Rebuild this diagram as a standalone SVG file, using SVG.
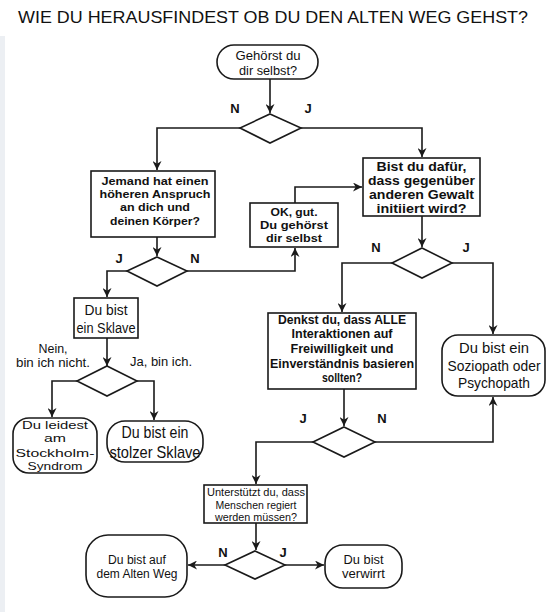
<svg xmlns="http://www.w3.org/2000/svg" width="548" height="612" viewBox="0 0 548 612">
<style>
.nd{fill:#fff;stroke:#1a1a1a;stroke-width:1.6}
.ln{fill:none;stroke:#1a1a1a;stroke-width:1.6;marker-end:url(#ah)}
text{font-family:"Liberation Sans",Arial,sans-serif;fill:#111;text-anchor:middle}
.b{font-weight:bold}
.lbl{font-weight:bold;font-size:13px}
</style>
<defs>
<marker id="ah" viewBox="0 0 10 10" refX="10" refY="5" markerWidth="9" markerHeight="9" markerUnits="userSpaceOnUse" orient="auto">
<path d="M0,0 L10,5 L0,10 L3,5 z" fill="#1a1a1a"/>
</marker>
</defs>
<rect x="0" y="0" width="548" height="612" fill="#fff"/>
<rect x="0" y="36" width="5" height="576" fill="#eceff3"/>
<text x="273" y="23" font-size="17" textLength="510" lengthAdjust="spacingAndGlyphs">WIE DU HERAUSFINDEST OB DU DEN ALTEN WEG GEHST?</text>

<g id="connectors">
<path class="ln" d="M270,79 V113"/>
<path class="ln" d="M240,128 H157 V170"/>
<path class="ln" d="M301,128 H422 V157"/>
<path class="ln" d="M157,237 V256"/>
<path class="ln" d="M127,271 H107 V297"/>
<path class="ln" d="M187,271 H295 V248"/>
<path class="ln" d="M295,203 V187 H362"/>
<path class="ln" d="M422,216 V247"/>
<path class="ln" d="M392,263 H342 V312"/>
<path class="ln" d="M452,263 H493 V334"/>
<path class="ln" d="M344,389 V426"/>
<path class="ln" d="M375,442 H493 V397"/>
<path class="ln" d="M313,442 H256 V484"/>
<path class="ln" d="M256,523 V550"/>
<path class="ln" d="M225,565 H188"/>
<path class="ln" d="M285,565 H324"/>
<path class="ln" d="M107,338 V366"/>
<path class="ln" d="M77,381 H52 V417"/>
<path class="ln" d="M137,381 H154 V420"/>
</g>

<g id="start">
<rect class="nd" x="217" y="45" width="101" height="34" rx="17"/>
<text x="268" y="60" font-size="13" textLength="65" lengthAdjust="spacingAndGlyphs">Gehörst du</text>
<text x="268" y="75" font-size="13" textLength="58" lengthAdjust="spacingAndGlyphs">dir selbst?</text>
</g>

<g id="d1">
<polygon class="nd" points="270,114 301,128 270,143 240,128"/>
<text class="lbl" x="235" y="113">N</text>
<text class="lbl" x="308" y="113">J</text>
</g>

<g id="jemand">
<rect class="nd" x="91" y="171" width="124" height="66"/>
<text class="b" x="155" y="185" font-size="11.5" textLength="107" lengthAdjust="spacingAndGlyphs">Jemand hat einen</text>
<text class="b" x="155" y="198" font-size="11.5" textLength="111" lengthAdjust="spacingAndGlyphs">höheren Anspruch</text>
<text class="b" x="155" y="211" font-size="11.5" textLength="70" lengthAdjust="spacingAndGlyphs">an dich und</text>
<text class="b" x="155" y="225" font-size="11.5" textLength="90" lengthAdjust="spacingAndGlyphs">deinen Körper?</text>
</g>

<g id="bist">
<rect class="nd" x="363" y="158" width="117" height="58"/>
<text class="b" x="421.5" y="171" font-size="12.3" textLength="90" lengthAdjust="spacingAndGlyphs">Bist du dafür,</text>
<text class="b" x="421.5" y="185" font-size="12.3" textLength="107" lengthAdjust="spacingAndGlyphs">dass gegenüber</text>
<text class="b" x="421.5" y="199" font-size="12.3" textLength="105" lengthAdjust="spacingAndGlyphs">anderen Gewalt</text>
<text class="b" x="421.5" y="213" font-size="12.3" textLength="90" lengthAdjust="spacingAndGlyphs">initiiert wird?</text>
</g>

<g id="d2">
<polygon class="nd" points="157,257 187,271 157,286 127,271"/>
<text class="lbl" x="119" y="263">J</text>
<text class="lbl" x="195" y="263">N</text>
</g>

<g id="ok">
<rect class="nd" x="250" y="203" width="88" height="44"/>
<text class="b" x="294" y="216" font-size="11.5" textLength="47" lengthAdjust="spacingAndGlyphs">OK, gut.</text>
<text class="b" x="294" y="229" font-size="11.5" textLength="68" lengthAdjust="spacingAndGlyphs">Du gehörst</text>
<text class="b" x="294" y="242" font-size="11.5" textLength="56" lengthAdjust="spacingAndGlyphs">dir selbst</text>
</g>

<g id="d3">
<polygon class="nd" points="422,248 452,263 422,278 392,263"/>
<text class="lbl" x="376" y="252">N</text>
<text class="lbl" x="466" y="252">J</text>
</g>

<g id="sklave">
<rect class="nd" x="74" y="298" width="64" height="40"/>
<text x="106" y="315" font-size="14" textLength="43" lengthAdjust="spacingAndGlyphs">Du bist</text>
<text x="106" y="333" font-size="14" textLength="59" lengthAdjust="spacingAndGlyphs">ein Sklave</text>
</g>

<g id="d6">
<polygon class="nd" points="107,366 137,381 107,396 77,381"/>
<text x="53" y="353" font-size="12" textLength="29" lengthAdjust="spacingAndGlyphs">Nein,</text>
<text x="53" y="367" font-size="12" textLength="74" lengthAdjust="spacingAndGlyphs">bin ich nicht.</text>
<text x="161" y="366" font-size="12" textLength="62" lengthAdjust="spacingAndGlyphs">Ja, bin ich.</text>
</g>

<g id="leidest">
<rect class="nd" x="13" y="418" width="84" height="55" rx="16"/>
<text x="55" y="429" font-size="11.5" textLength="66" lengthAdjust="spacingAndGlyphs">Du leidest</text>
<text x="55" y="442" font-size="11.5" textLength="22" lengthAdjust="spacingAndGlyphs">am</text>
<text x="55" y="457" font-size="11.5" textLength="79" lengthAdjust="spacingAndGlyphs">Stockholm-</text>
<text x="55" y="470" font-size="11.5" textLength="55" lengthAdjust="spacingAndGlyphs">Syndrom</text>
</g>

<g id="stolz">
<rect class="nd" x="107" y="421" width="96" height="41" rx="18"/>
<text x="155" y="438" font-size="17" textLength="67" lengthAdjust="spacingAndGlyphs">Du bist ein</text>
<text x="155" y="458" font-size="17" textLength="91" lengthAdjust="spacingAndGlyphs">stolzer Sklave</text>
</g>

<g id="denkst">
<rect class="nd" x="268" y="313" width="148" height="76"/>
<text class="b" x="342" y="324" font-size="12.3" textLength="128" lengthAdjust="spacingAndGlyphs">Denkst du, dass ALLE</text>
<text class="b" x="342" y="338" font-size="12.3" textLength="101" lengthAdjust="spacingAndGlyphs">Interaktionen auf</text>
<text class="b" x="342" y="353" font-size="12.3" textLength="103" lengthAdjust="spacingAndGlyphs">Freiwilligkeit und</text>
<text class="b" x="342" y="368" font-size="12.3" textLength="144" lengthAdjust="spacingAndGlyphs">Einverständnis basieren</text>
<text class="b" x="342" y="382" font-size="12.3" textLength="40" lengthAdjust="spacingAndGlyphs">sollten?</text>
</g>

<g id="sozio">
<rect class="nd" x="442" y="335" width="103" height="61" rx="16"/>
<text x="494" y="353" font-size="15" textLength="70" lengthAdjust="spacingAndGlyphs">Du bist ein</text>
<text x="494" y="371" font-size="15" textLength="93" lengthAdjust="spacingAndGlyphs">Soziopath oder</text>
<text x="494" y="388" font-size="15" textLength="72" lengthAdjust="spacingAndGlyphs">Psychopath</text>
</g>

<g id="d4">
<polygon class="nd" points="344,427 375,442 344,457 313,442"/>
<text class="lbl" x="303" y="423">J</text>
<text class="lbl" x="382" y="423">N</text>
</g>

<g id="unter">
<rect class="nd" x="204" y="485" width="103" height="38"/>
<text x="256" y="496" font-size="11" textLength="98" lengthAdjust="spacingAndGlyphs">Unterstützt du, dass</text>
<text x="256" y="508.5" font-size="11" textLength="81" lengthAdjust="spacingAndGlyphs">Menschen regiert</text>
<text x="256" y="521" font-size="11" textLength="82" lengthAdjust="spacingAndGlyphs">werden müssen?</text>
</g>

<g id="d5">
<polygon class="nd" points="255,551 285,565 255,579 225,565"/>
<text class="lbl" x="223" y="557">N</text>
<text class="lbl" x="283" y="557">J</text>
</g>

<g id="alt">
<rect class="nd" x="86" y="535" width="101" height="62" rx="22"/>
<text x="137" y="564" font-size="12" textLength="58" lengthAdjust="spacingAndGlyphs">Du bist auf</text>
<text x="137" y="578" font-size="12" textLength="81" lengthAdjust="spacingAndGlyphs">dem Alten Weg</text>
</g>

<g id="verwirrt">
<rect class="nd" x="325" y="545" width="77" height="43" rx="18"/>
<text x="363.5" y="564" font-size="12.5" textLength="40" lengthAdjust="spacingAndGlyphs">Du bist</text>
<text x="363.5" y="578" font-size="12.5" textLength="43" lengthAdjust="spacingAndGlyphs">verwirrt</text>
</g>
</svg>
